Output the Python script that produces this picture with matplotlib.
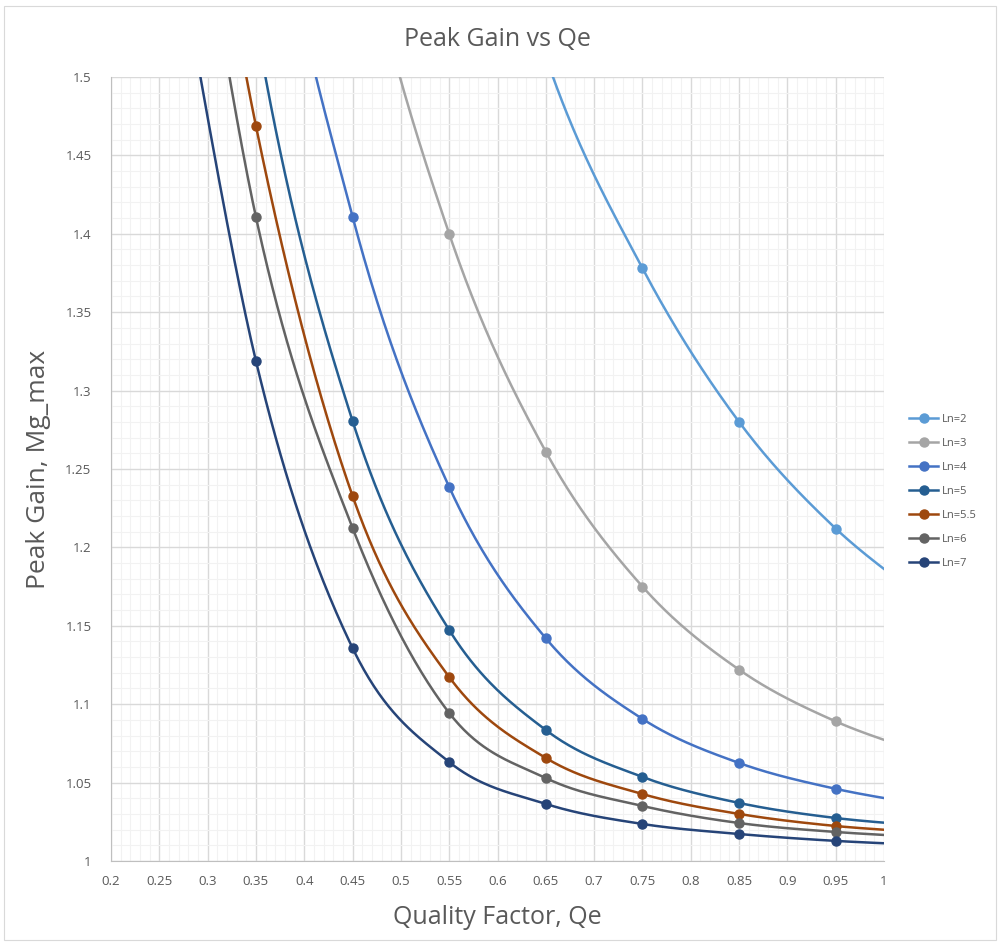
import numpy as np
import matplotlib.pyplot as plt
from matplotlib.ticker import MultipleLocator, FuncFormatter
from matplotlib.patches import Rectangle

nan = np.nan

# quality factor points (points above 1.5 or past x=1 are off the axes)
qe = [0.25, 0.35, 0.45, 0.55, 0.65, 0.75, 0.85, 0.95, 1.05]

# peak gain; hidden values are estimates
mg_ln2 = [nan, nan, nan, 1.74, 1.513, 1.378, 1.280, 1.212, 1.163]
mg_ln3 = [nan, 2.00, 1.625, 1.400, 1.261, 1.175, 1.122, 1.089, 1.067]
mg_ln4 = [2.30, 1.705, 1.411, 1.2385, 1.142, 1.0906, 1.0625, 1.046, 1.035]
mg_ln5 = [2.00, 1.534, 1.2806, 1.1473, 1.0835, 1.0536, 1.037, 1.0274, 1.022]
mg_ln55 = [1.834, 1.4688, 1.2328, 1.1173, 1.0657, 1.0427, 1.030, 1.0223, 1.018]
mg_ln6 = [1.782, 1.4107, 1.2124, 1.0944, 1.0529, 1.0351, 1.0242, 1.0185, 1.015]
mg_ln7 = [1.65, 1.3189, 1.1358, 1.0631, 1.0364, 1.0236, 1.0172, 1.0128, 1.010]

labels = ['Ln=2', 'Ln=3', 'Ln=4', 'Ln=5', 'Ln=5.5', 'Ln=6', 'Ln=7']
series = [mg_ln2, mg_ln3, mg_ln4, mg_ln5, mg_ln55, mg_ln6, mg_ln7]
colors = ['#5B9BD5', '#A5A5A5', '#4472C4', '#255E91', '#9E480E', '#636363', '#264478']

txt = '#595959'
plt.rcParams['font.family'] = ['Open Sans', 'DejaVu Sans']


def smooth(ax, x, y, n=60):
    # excel-style smoothed line, built in display (pixel) space
    p = ax.transData.transform(np.column_stack([x, y]))
    out = []
    for i in range(len(p) - 1):
        p0 = p[i - 1] if i > 0 else p[i]
        p3 = p[i + 2] if i + 2 < len(p) else p[i + 1]
        d12 = np.hypot(*(p[i + 1] - p[i]))
        d02 = np.hypot(*(p[i + 1] - p0))
        d13 = np.hypot(*(p3 - p[i]))
        f1 = 1 / 6 if d02 / 6 < d12 / 2 else d12 / 2 / d02
        f2 = 1 / 6 if d13 / 6 < d12 / 2 else d12 / 2 / d13
        c1 = p[i] + (p[i + 1] - p0) * f1
        c2 = p[i + 1] - (p3 - p[i]) * f2
        t = np.linspace(0, 1, n)[:, None]
        seg = ((1 - t) ** 3 * p[i] + 3 * (1 - t) ** 2 * t * c1
               + 3 * (1 - t) * t ** 2 * c2 + t ** 3 * p[i + 1])
        out.append(seg)
    out = ax.transData.inverted().transform(np.vstack(out))
    return out[:, 0], out[:, 1]


fig = plt.figure(figsize=(9.98, 9.48), dpi=100)
fig.patches.append(Rectangle((0.004, 0.008), 0.994, 0.986, transform=fig.transFigure,
                             fill=False, edgecolor='#D9D9D9', lw=0.8))
ax = fig.add_axes([0.1112, 0.0918, 0.7746, 0.827])
ax.set_xlim(0.2, 1.0)
ax.set_ylim(1.0, 1.5)

for y, lab, c in zip(series, labels, colors):
    x = np.array(qe)
    y = np.array(y)
    ok = ~np.isnan(y)
    sx, sy = smooth(ax, x[ok], y[ok])
    ax.plot(sx, sy, color=c, lw=1.8, zorder=3)
    ax.plot(x[ok], y[ok], 'o', color=c, ms=6.5, zorder=4)
    ax.plot([], [], '-o', color=c, lw=1.8, ms=6.5, label=lab)

ax.set_xlim(0.2, 1.0)
ax.set_ylim(1.0, 1.5)
ax.xaxis.set_major_locator(MultipleLocator(0.05))
ax.xaxis.set_minor_locator(MultipleLocator(0.01))
ax.yaxis.set_major_locator(MultipleLocator(0.05))
ax.yaxis.set_minor_locator(MultipleLocator(0.01))
fmt = FuncFormatter(lambda v, p: ('%.2f' % v).rstrip('0').rstrip('.'))
ax.xaxis.set_major_formatter(fmt)
ax.yaxis.set_major_formatter(fmt)
ax.grid(which='major', color='#D9D9D9', lw=1.0, zorder=1)
ax.grid(which='minor', color='#F2F2F2', lw=0.8, zorder=0)
ax.tick_params(which='both', length=0, colors=txt, labelsize=9.5)
ax.tick_params(axis='x', pad=10)
ax.tick_params(axis='y', pad=14)
for s in ['top', 'right']:
    ax.spines[s].set_visible(False)
for s in ['left', 'bottom']:
    ax.spines[s].set_color('#BFBFBF')

ax.set_title('Peak Gain vs Qe', color=txt, fontsize=18, pad=22)
ax.set_xlabel('Quality Factor, Qe', color=txt, fontsize=18, labelpad=12)
ax.set_ylabel('Peak Gain, Mg_max', color=txt, fontsize=19, labelpad=10)

leg = ax.legend(loc='center left', bbox_to_anchor=(1.02, 0.471), frameon=False,
                fontsize=8, handlelength=2.6, labelspacing=1.17, handletextpad=0.3)
for t in leg.get_texts():
    t.set_color(txt)

fig.savefig('out.png', dpi=100)
